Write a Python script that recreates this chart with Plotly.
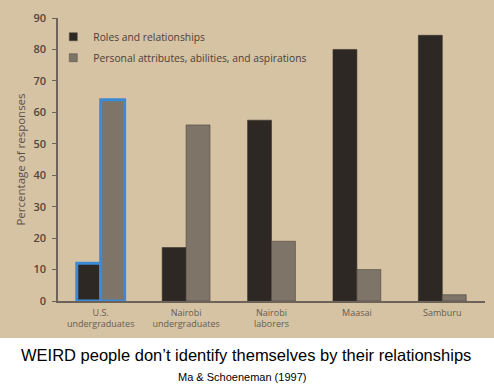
import plotly.graph_objects as go

categories = ["U.S.<br>undergraduates", "Nairobi<br>undergraduates", "Nairobi<br>laborers", "Maasai", "Samburu"]
roles = [12, 17, 57.5, 80, 84.5]
personal = [64, 56, 19, 10, 2]
series_names = ["Roles and relationships", "Personal attributes, abilities, and aspirations"]
y_ticks = [0, 10, 20, 30, 40, 50, 60, 70, 80, 90]
highlight = [True, False, False, False, False]

BLUE = "#3b8ad8"
ROLE_C = "#2d2824"
PERS_C = "#7e7468"
TXT = "#5b5148"

def line_colors(base):
    return [BLUE if h else base for h in highlight]

def line_widths():
    return [3 if h else 0.6 for h in highlight]

fig = go.Figure()
fig.add_trace(go.Bar(
    x=categories, y=roles, name=series_names[0], showlegend=False,
    marker=dict(color=ROLE_C, line=dict(color=line_colors("#3a332d"), width=line_widths())),
))
fig.add_trace(go.Bar(
    x=categories, y=personal, name=series_names[1], showlegend=False,
    marker=dict(color=PERS_C, line=dict(color=line_colors("#4d453d"), width=line_widths())),
))
# legend entries (no data drawn)
for nm, col, grp in [(series_names[0], ROLE_C, "a"), (series_names[1], PERS_C, "b")]:
    fig.add_trace(go.Scatter(
        x=[None], y=[None], mode="markers", name=nm, legendgroup=grp,
        marker=dict(symbol="square", size=8, color=col, line=dict(color="#4d453d", width=0.5)),
    ))

fig.update_layout(
    width=494, height=387,
    margin=dict(l=58, r=9, t=18, b=86),
    paper_bgcolor="white",
    plot_bgcolor="rgba(0,0,0,0)",
    barmode="group",
    bargap=0.44,
    bargroupgap=0,
    font=dict(family="Open Sans, Liberation Sans, Arial", color=TXT, size=10),
    showlegend=True,
    legend=dict(
        x=-0.011, y=0.985, xanchor="left", yanchor="top",
        bgcolor="rgba(0,0,0,0)",
        font=dict(size=10.3, color="#4a4138"),
        traceorder="grouped", tracegroupgap=2,
        itemwidth=30,
    ),
    xaxis=dict(
        showline=True, linecolor="#6d6358", linewidth=1.5,
        ticks="", tickfont=dict(size=9, color="#665c52"),
        ticklabelstandoff=2,
        showgrid=False, zeroline=False, automargin=False,
    ),
    yaxis=dict(
        range=[0, 90], tickvals=y_ticks,
        showline=True, linecolor="#6d6358", linewidth=1.5,
        ticks="outside", ticklen=4, tickcolor="#6d6358",
        ticklabelstandoff=4,
        tickfont=dict(size=11, color="#4f463e", weight=600),
        showgrid=False, zeroline=False, automargin=False,
        title=dict(text="Percentage of responses", font=dict(size=11.5, color=TXT), standoff=5),
    ),
    shapes=[dict(
        type="rect", xref="paper", yref="paper",
        x0=-58/427, x1=1 + 9/427, y0=(301-338)/283, y1=1 + 18/283,
        fillcolor="#d6c3a4", line=dict(width=0), layer="below",
    )],
    annotations=[
        dict(text="WEIRD people don’t identify themselves by their relationships",
             xref="paper", yref="paper", x=(246-58)/427, y=(301-355)/283,
             showarrow=False, xanchor="center", yanchor="middle",
             font=dict(family="Liberation Sans, Arial", size=16.5, color="black")),
        dict(text="Ma & Schoeneman (1997)",
             xref="paper", yref="paper", x=(242-58)/427, y=(301-377)/283,
             showarrow=False, xanchor="center", yanchor="middle",
             font=dict(family="Liberation Sans, Arial", size=11, color="black")),
    ],
)

fig.write_html("out.html", config={"displayModeBar": False},
               post_script="document.body.style.margin='0';document.body.style.padding='0';")
